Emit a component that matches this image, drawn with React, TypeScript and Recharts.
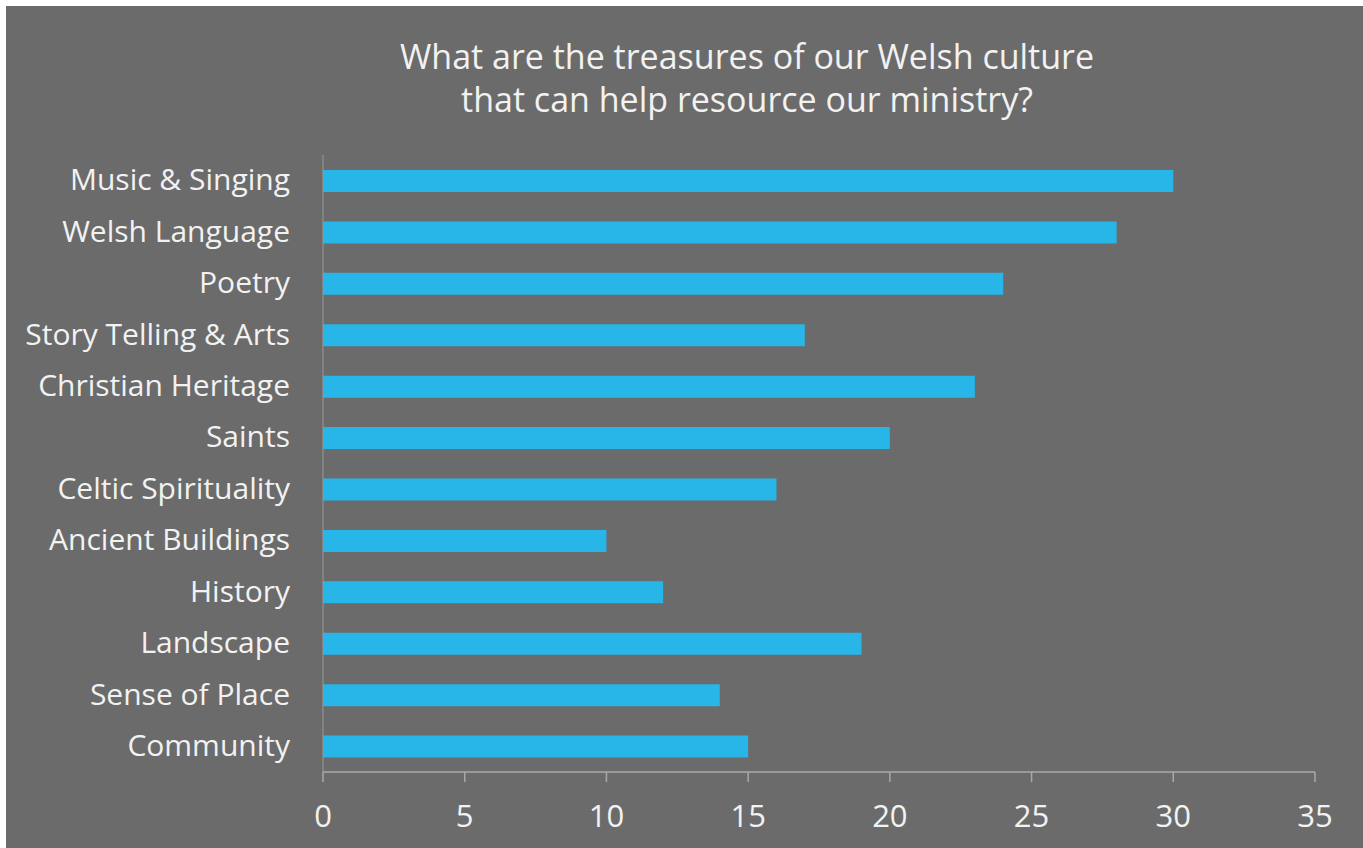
import React from "react";
import { BarChart, Bar, XAxis, YAxis } from "recharts";

const categories = [
  "Music & Singing",
  "Welsh Language",
  "Poetry",
  "Story Telling & Arts",
  "Christian Heritage",
  "Saints",
  "Celtic Spirituality",
  "Ancient Buildings",
  "History",
  "Landscape",
  "Sense of Place",
  "Community",
];
const counts = [30, 28, 24, 17, 23, 20, 16, 10, 12, 19, 14, 15];
const xTicks = [0, 5, 10, 15, 20, 25, 30, 35];
const titleLines = [
  "What are the treasures of our Welsh culture",
  "that can help resource our ministry?",
];

const data = categories.map((name, i) => ({ name, value: counts[i] }));

const FONT = "'Open Sans', 'Noto Sans', sans-serif";
const TEXT = "#f2f2f2";
const BG = "#6b6b6b";

export default function App() {
  return (
    <div
      style={{
        position: "absolute",
        left: 6,
        top: 6,
        width: 1357,
        height: 842,
        background: BG,
        overflow: "hidden",
      }}
    >
      <div
        style={{
          position: "absolute",
          left: 0,
          width: 1357,
          top: 29,
          textAlign: "center",
          fontFamily: FONT,
          color: TEXT,
          fontSize: 34,
          lineHeight: "43px",
          paddingLeft: 125,
          boxSizing: "border-box",
          whiteSpace: "nowrap",
        }}
      >
        {titleLines.map((l) => (
          <div key={l}>{l}</div>
        ))}
      </div>
      <BarChart
        width={1357}
        height={842}
        data={data}
        layout="vertical"
        margin={{ top: 149, right: 48, bottom: 0, left: 0 }}
        barCategoryGap={15}
      >
        <XAxis
          type="number"
          domain={[0, 35]}
          ticks={xTicks}
          interval={0}
          height={76}
          axisLine={{ stroke: "#a8a8a8", strokeWidth: 1.5 }}
          tickLine={{ stroke: "#a8a8a8", strokeWidth: 1.5 }}
          tickSize={10}
          tickMargin={23}
          tick={{ fill: TEXT, fontSize: 31, fontFamily: FONT }}
        />
        <YAxis
          type="category"
          dataKey="name"
          width={317}
          interval={0}
          axisLine={{ stroke: "#9a9a9a", strokeWidth: 1 }}
          tickLine={false}
          tickSize={8}
          tickMargin={25}
          tick={{ fill: TEXT, fontSize: 30, fontFamily: FONT, dy: -1 }}
        />
        <Bar dataKey="value" fill="#27b6e7" barSize={22} isAnimationActive={false} />
      </BarChart>
    </div>
  );
}
